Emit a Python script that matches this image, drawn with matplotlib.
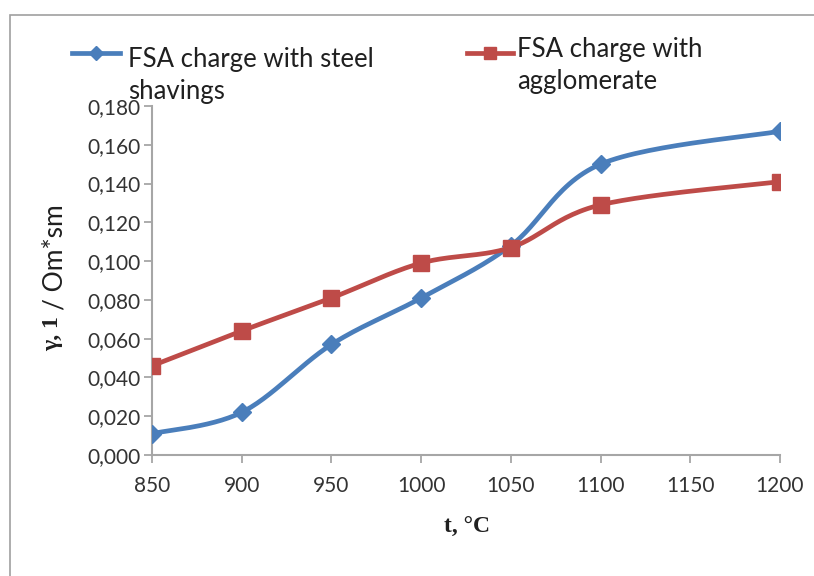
import numpy as np
import matplotlib
matplotlib.use("Agg")
import matplotlib.pyplot as plt
from matplotlib.patches import Rectangle

temps = [850, 900, 950, 1000, 1050, 1100, 1200]
steel = [0.011, 0.022, 0.057, 0.081, 0.108, 0.150, 0.167]
agglo = [0.046, 0.064, 0.081, 0.099, 0.107, 0.129, 0.141]
yticks = [0.0, 0.02, 0.04, 0.06, 0.08, 0.10, 0.12, 0.14, 0.16, 0.18]
xticks = [850, 900, 950, 1000, 1050, 1100, 1150, 1200]
label_steel = "FSA charge with steel\nshavings"
label_agglo = "FSA charge with\nagglomerate"

BLUE = "#4A7EBB"
RED = "#BE4B48"
TXT = "#333333"
FONT = "Lato"
W, H = 814, 576


def smooth(x, y, xr, yr, n=30):
    # Catmull-Rom style smoothing (like spreadsheet "smoothed line")
    x = np.asarray(x, float); y = np.asarray(y, float)
    xs = (x - xr[0]) / (xr[1] - xr[0]); ys = (y - yr[0]) / (yr[1] - yr[0]) * 0.6
    P = np.column_stack([xs, ys])
    P = np.vstack([P[0], P, P[-1]])
    out = []
    for i in range(1, len(P) - 2):
        p0, p1, p2, p3 = P[i - 1], P[i], P[i + 1], P[i + 2]
        b1 = p1 + (p2 - p0) / 6
        b2 = p2 - (p3 - p1) / 6
        t = np.linspace(0, 1, n)[:, None]
        seg = (1 - t) ** 3 * p1 + 3 * (1 - t) ** 2 * t * b1 + 3 * (1 - t) * t ** 2 * b2 + t ** 3 * p2
        out.append(seg if i == 1 else seg[1:])
    out = np.vstack(out)
    return out[:, 0] * (xr[1] - xr[0]) + xr[0], out[:, 1] / 0.6 * (yr[1] - yr[0]) + yr[0]


fig = plt.figure(figsize=(W / 100, H / 100), dpi=100)
fig.patches.append(Rectangle((10 / W, -0.01), 1.0, 1 - 15 / H + 0.01, transform=fig.transFigure,
                             fill=False, edgecolor="#A0A0A0", linewidth=1.2))
ax = fig.add_axes([152 / W, 1 - 455 / H, (780 - 152) / W, (455 - 106) / H])

xr = (850, 1200); yr = (0, 0.18)
for ys_, col, mk, ms in [(steel, BLUE, "D", 9), (agglo, RED, "s", 12)]:
    sx, sy = smooth(temps, ys_, xr, yr)
    ax.plot(sx, sy, color=col, lw=3.4, solid_capstyle="round", zorder=3)
    ax.plot(temps, ys_, ls="none", marker=mk, ms=ms, color=col, zorder=4)

ax.set_xlim(*xr)
ax.set_ylim(*yr)
ax.set_xticks(xticks)
ax.set_yticks(yticks)
ax.set_xticklabels([str(v) for v in xticks], fontsize=15, family=FONT, color=TXT)
ax.set_yticklabels([f"{v:.3f}".replace(".", ",") for v in yticks], fontsize=15, family=FONT, color=TXT)
for s in ["top", "right"]:
    ax.spines[s].set_visible(False)
for s in ["left", "bottom"]:
    ax.spines[s].set_color("#A6A6A6")
    ax.spines[s].set_linewidth(1.5)
ax.tick_params(axis="both", direction="out", length=6, width=1.3, color="#A6A6A6")
ax.tick_params(axis="x", pad=9)
ax.tick_params(axis="y", pad=2)

# axis labels
fig.text(467 / W, 1 - 527 / H, "t, °C", family="Liberation Serif", weight="bold",
         fontsize=17, ha="center", va="center", color="#202020")
fig.text(53 / W, 1 - 334 / H, "γ, 1", family="Liberation Serif", weight="bold",
         fontsize=17, rotation=90, ha="center", va="center", color="#202020")
fig.text(55 / W, 1 - 257 / H, "/ Om*sm", family=FONT, fontsize=19,
         rotation=90, ha="center", va="center", color="#202020")

# legend
for (x0, x1, y, col, mk, ms, tx, ty, lab) in [
        (72, 120, 53, BLUE, "D", 7, 128, 76, label_steel),
        (467, 513, 53, RED, "s", 9, 517, 65, label_agglo)]:
    fig.add_artist(plt.Line2D([x0 / W, x1 / W], [1 - y / H] * 2, color=col, lw=3.4,
                              transform=fig.transFigure))
    fig.add_artist(plt.Line2D([(x0 + x1) / 2 / W], [1 - y / H], marker=mk, ms=ms, color=col,
                              transform=fig.transFigure))
    fig.text(tx / W, 1 - ty / H, lab, family=FONT, fontsize=18.5, color="#202020",
             ha="left", va="center", linespacing=1.35)

fig.savefig("out.png", dpi=100)
